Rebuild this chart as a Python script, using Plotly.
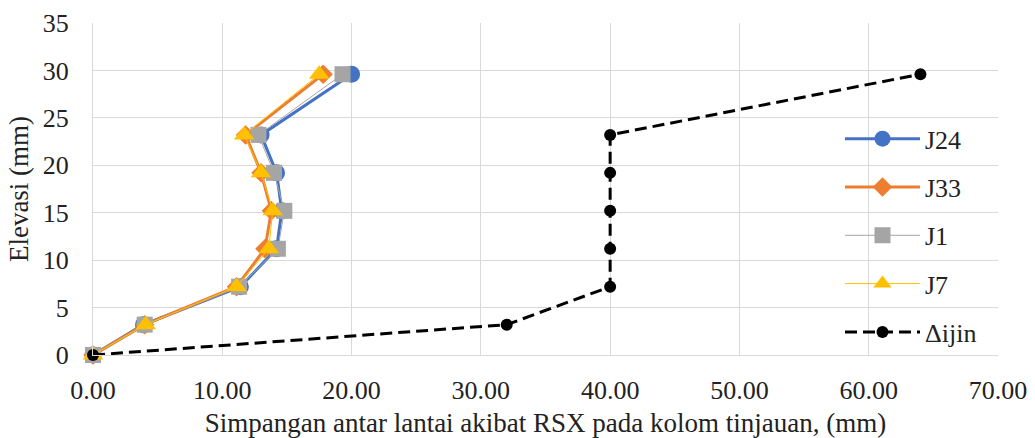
import plotly.graph_objects as go

elev = [0, 3.2, 7.2, 11.2, 15.2, 19.2, 23.2, 29.6]
j24 = [0, 3.9, 11.4, 14.2, 14.6, 14.2, 13.0, 20.0]
j33 = [0, 4.0, 11.1, 13.3, 13.8, 13.0, 11.8, 17.8]
j1 = [0, 4.0, 11.3, 14.3, 14.8, 14.0, 12.8, 19.3]
j7 = [0, 4.07, 11.1, 13.6, 13.9, 13.0, 11.7, 17.5]
ijin = [0, 32.0, 40.0, 40.0, 40.0, 40.0, 40.0, 64.0]

x_ticks = [0, 10, 20, 30, 40, 50, 60, 70]
y_ticks = [0, 5, 10, 15, 20, 25, 30, 35]

fig = go.Figure()
fig.add_trace(go.Scatter(x=j24, y=elev, name="J24", mode="lines+markers", legendgroup="a",
                         cliponaxis=False,
                         line=dict(color="#4472C4", width=3),
                         marker=dict(symbol="circle", size=17, color="#4472C4")))
fig.add_trace(go.Scatter(x=j33, y=elev, name="J33", mode="lines+markers", legendgroup="b",
                         cliponaxis=False,
                         line=dict(color="#ED7D31", width=3),
                         marker=dict(symbol="diamond", size=15, color="#ED7D31")))
fig.add_trace(go.Scatter(x=j1, y=elev, name="J1", mode="lines+markers", legendgroup="c",
                         cliponaxis=False,
                         line=dict(color="#A5A5A5", width=1),
                         marker=dict(symbol="square", size=16, color="#A5A5A5")))
fig.add_trace(go.Scatter(x=j7, y=elev, name="J7", mode="lines+markers", legendgroup="d",
                         cliponaxis=False,
                         line=dict(color="#FFC000", width=1),
                         marker=dict(symbol="triangle-up", size=18, color="#FFC000")))
fig.add_trace(go.Scatter(x=ijin, y=elev, name="Δijin", mode="lines+markers", legendgroup="e",
                         cliponaxis=False,
                         line=dict(color="black", width=3, dash="12px,6px"),
                         marker=dict(symbol="circle", size=12, color="black")))

fam = "Liberation Serif, Times New Roman, serif"
tickfont = dict(family=fam, size=26, color="#222")
titlefont = dict(family=fam, size=27, color="#222")
fig.update_layout(
    width=1035, height=438,
    margin=dict(l=93, r=37, t=23, b=83),
    paper_bgcolor="white", plot_bgcolor="white",
    font=tickfont,
    legend=dict(x=0.8254, y=0.722, xanchor="left", yanchor="top",
                bgcolor="rgba(0,0,0,0)", traceorder="grouped", tracegroupgap=11.5,
                itemwidth=75, font=dict(family=fam, size=26, color="#222")),
    xaxis=dict(range=[0, 70], tickvals=x_ticks, tickformat=".2f", tickfont=tickfont,
               showgrid=True, gridcolor="#d9d9d9", gridwidth=1, automargin=False,
               zeroline=False, showline=True, linecolor="#d9d9d9",
               ticks="", ticklen=0, ticklabelstandoff=12,
               title=dict(text="Simpangan antar lantai akibat RSX pada kolom tinjauan, (mm)",
                          font=titlefont, standoff=8)),
    yaxis=dict(range=[0, 35], tickvals=y_ticks, tickfont=tickfont,
               showgrid=True, gridcolor="#d9d9d9", gridwidth=1, automargin=False,
               zeroline=False, showline=True, linecolor="#d9d9d9",
               ticks="", ticklen=0, ticklabelstandoff=18,
               title=dict(text="Elevasi (mm)", font=titlefont, standoff=6)),
)
fig.write_html("out.html")
